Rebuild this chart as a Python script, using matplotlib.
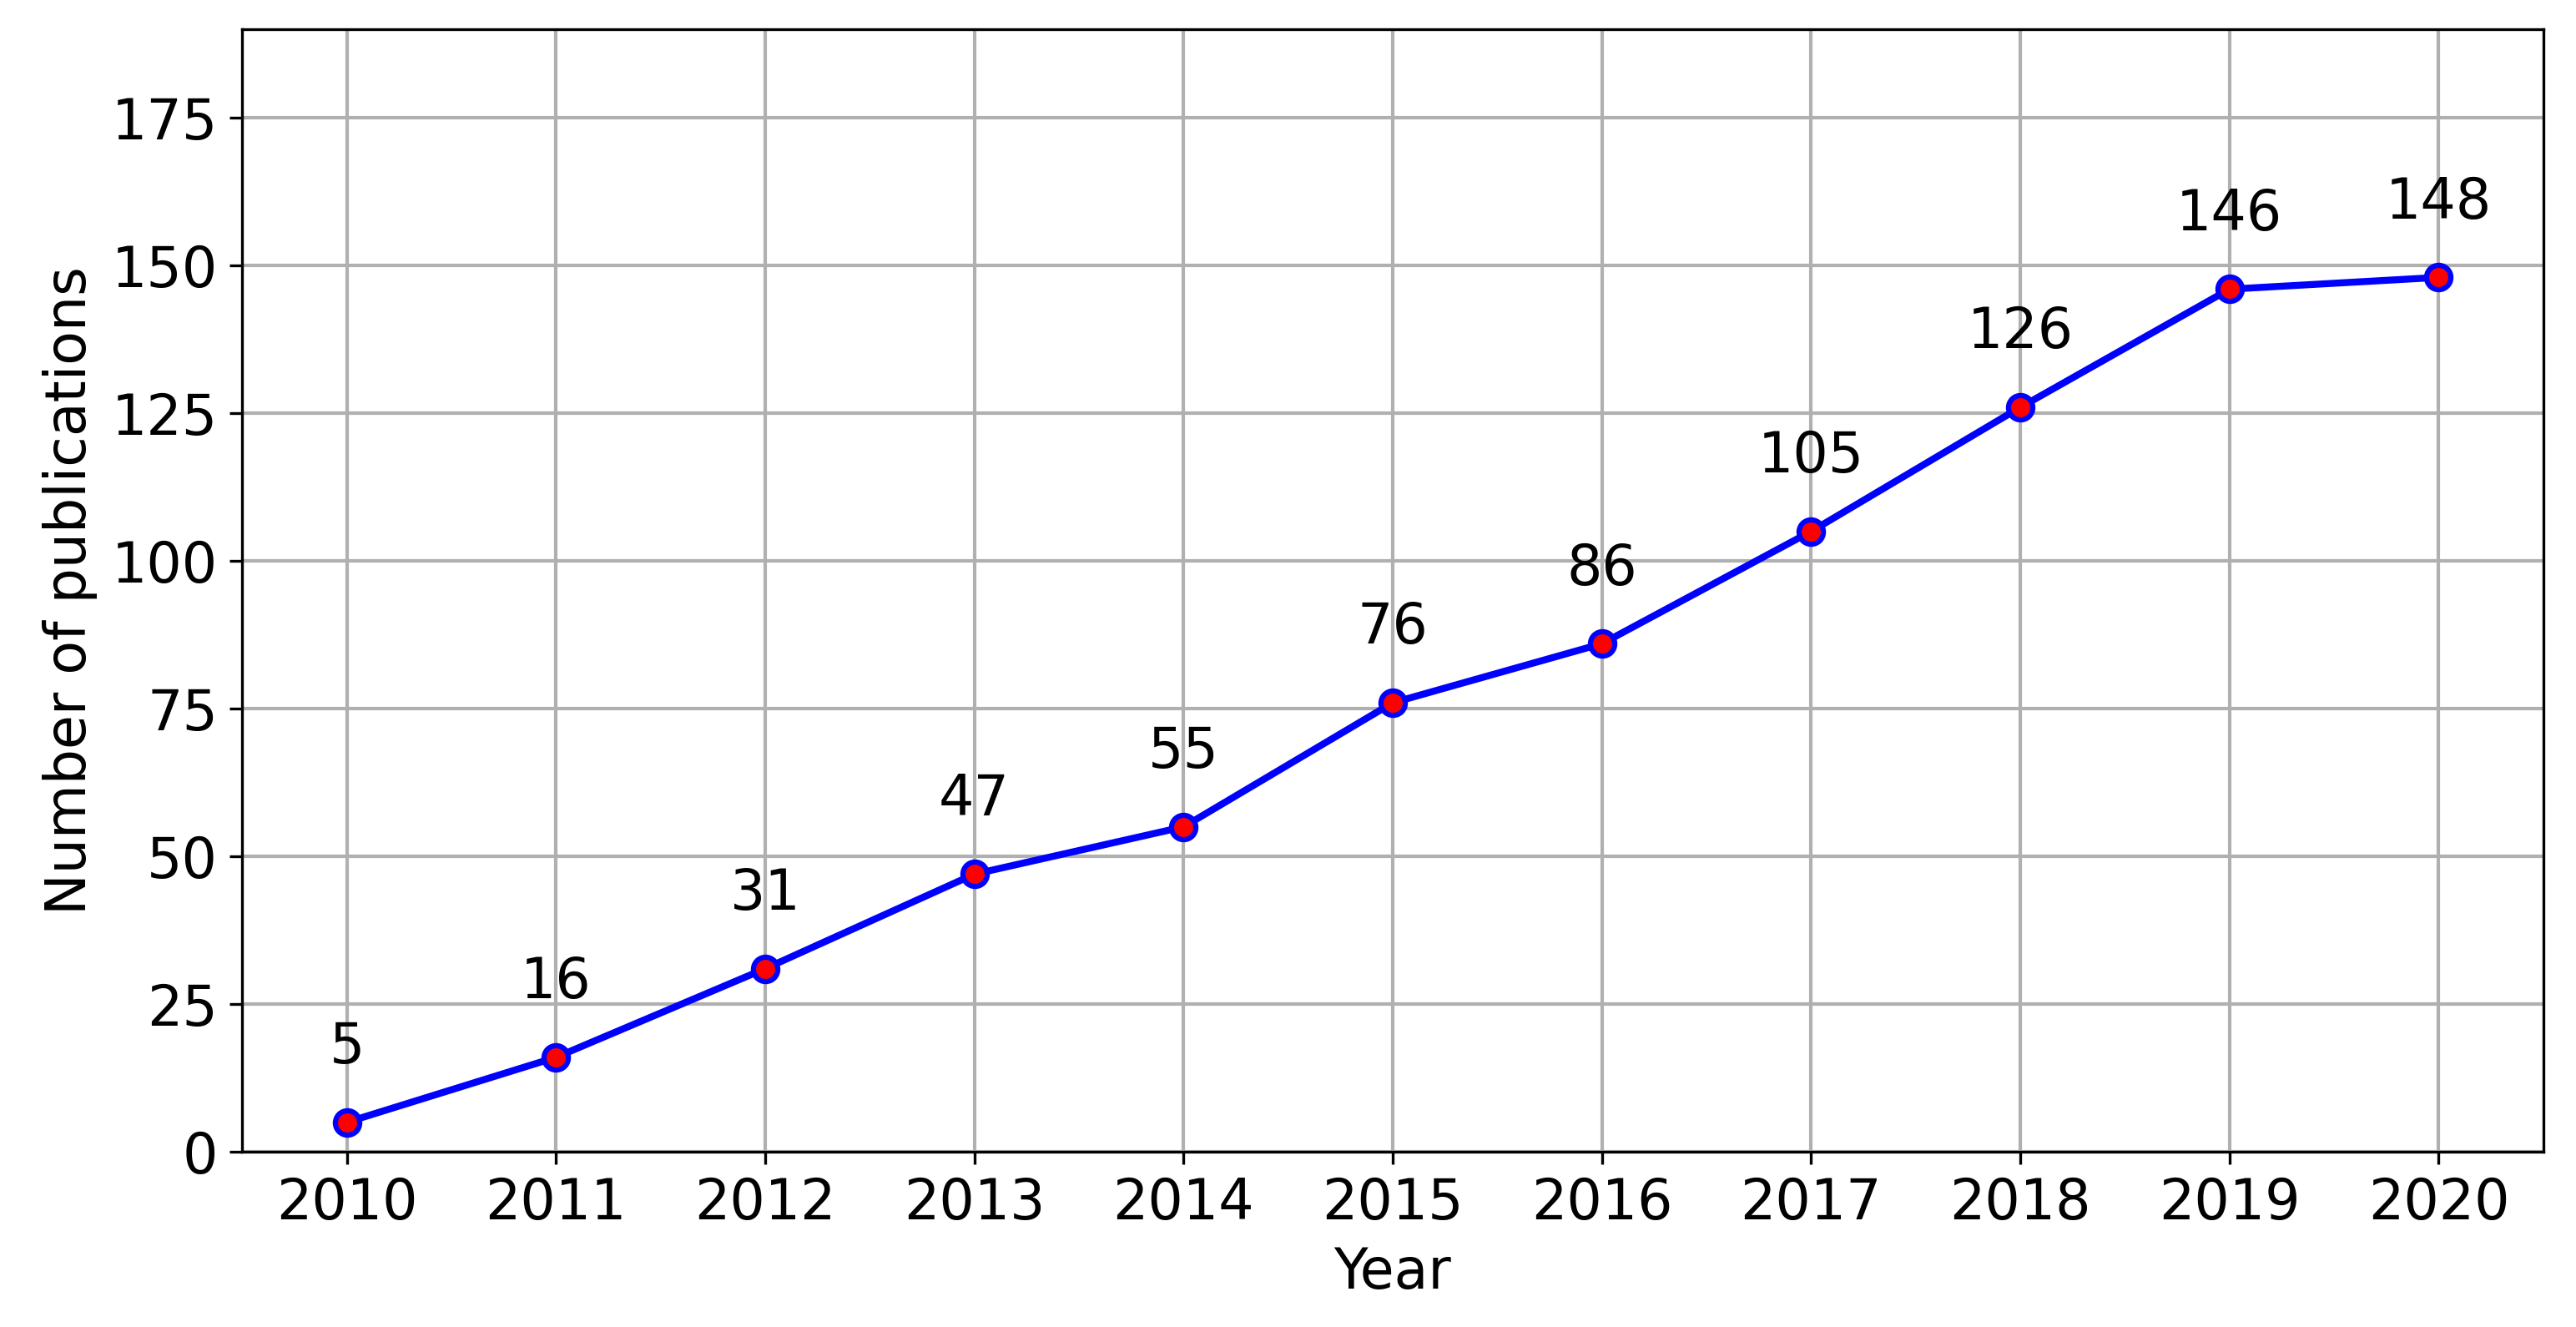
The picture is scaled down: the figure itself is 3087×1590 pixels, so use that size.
import matplotlib.pyplot as plt

years = [2010, 2011, 2012, 2013, 2014, 2015, 2016, 2017, 2018, 2019, 2020]
counts = [5, 16, 31, 47, 55, 76, 86, 105, 126, 146, 148]

fig, ax = plt.subplots(figsize=(10.293, 5.3))
ax.plot(years, counts, color="blue", linewidth=2, marker="o", markersize=7,
        markerfacecolor="red", markeredgecolor="blue", markeredgewidth=1.5, zorder=3)
for x, y in zip(years, counts):
    ax.text(x, y + 8, str(y), ha="center", va="bottom", fontsize=16)

ax.set_xticks(years)
ax.set_xlim(2009.5, 2020.5)
ax.set_ylim(0, 190)
ax.set_yticks(range(0, 176, 25))
ax.tick_params(labelsize=16)
ax.set_xlabel("Year", fontsize=16)
ax.set_ylabel("Number of publications", fontsize=16)
ax.grid(True, color="#b0b0b0", linewidth=1)
ax.set_axisbelow(True)

fig.subplots_adjust(left=0.094, right=0.987, top=0.978, bottom=0.132)
fig.savefig("out.png", dpi=300)
